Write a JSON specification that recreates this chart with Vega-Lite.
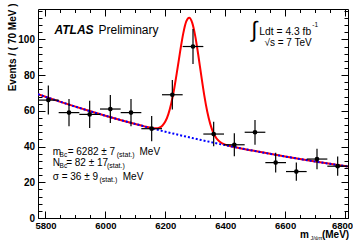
{
  "$schema": "https://vega.github.io/schema/vega-lite/v6.json",
  "width": 310,
  "height": 209,
  "autosize": {"type": "none"},
  "padding": {"left": 38, "top": 9, "right": 5, "bottom": 22},
  "background": "white",
  "config": {
    "font": "Liberation Sans",
    "view": {"stroke": "black", "strokeWidth": 1},
    "axis": {"domain": false, "grid": false, "tickColor": "black", "tickWidth": 1, "labelColor": "black", "labelFont": "Liberation Sans", "labelFontWeight": "bold", "labelFontSize": 10, "labelOverlap": false, "labelFlush": false, "zindex": 1},
    "text": {"font": "Liberation Sans", "color": "black", "align": "left", "baseline": "middle"}
  },
  "datasets": {
    "curve": [
      {"m": 5775, "bkg": 69.30, "total": 69.30},
      {"m": 5800, "bkg": 67.85, "total": 67.85},
      {"m": 5850, "bkg": 65.03, "total": 65.03},
      {"m": 5900, "bkg": 62.33, "total": 62.33},
      {"m": 5950, "bkg": 59.74, "total": 59.74},
      {"m": 6000, "bkg": 57.26, "total": 57.26},
      {"m": 6050, "bkg": 54.89, "total": 54.89},
      {"m": 6100, "bkg": 52.61, "total": 52.61},
      {"m": 6130, "bkg": 51.29, "total": 51.30},
      {"m": 6150, "bkg": 50.42, "total": 50.52},
      {"m": 6170, "bkg": 49.57, "total": 50.20},
      {"m": 6180, "bkg": 49.15, "total": 50.56},
      {"m": 6190, "bkg": 48.74, "total": 51.68},
      {"m": 6200, "bkg": 48.33, "total": 54.00},
      {"m": 6210, "bkg": 47.92, "total": 58.04},
      {"m": 6220, "bkg": 47.52, "total": 64.23},
      {"m": 6230, "bkg": 47.12, "total": 72.65},
      {"m": 6240, "bkg": 46.72, "total": 82.87},
      {"m": 6250, "bkg": 46.32, "total": 93.68},
      {"m": 6260, "bkg": 45.93, "total": 103.35},
      {"m": 6270, "bkg": 45.55, "total": 110.01},
      {"m": 6280, "bkg": 45.16, "total": 112.16},
      {"m": 6290, "bkg": 44.78, "total": 109.24},
      {"m": 6300, "bkg": 44.40, "total": 101.82},
      {"m": 6310, "bkg": 44.03, "total": 91.39},
      {"m": 6320, "bkg": 43.65, "total": 79.80},
      {"m": 6330, "bkg": 43.29, "total": 68.82},
      {"m": 6340, "bkg": 42.92, "total": 59.63},
      {"m": 6350, "bkg": 42.56, "total": 52.68},
      {"m": 6360, "bkg": 42.20, "total": 47.87},
      {"m": 6370, "bkg": 41.84, "total": 44.78},
      {"m": 6380, "bkg": 41.49, "total": 42.90},
      {"m": 6390, "bkg": 41.14, "total": 41.77},
      {"m": 6400, "bkg": 40.79, "total": 41.05},
      {"m": 6410, "bkg": 40.44, "total": 40.54},
      {"m": 6450, "bkg": 39.10, "total": 39.10},
      {"m": 6500, "bkg": 37.48, "total": 37.48},
      {"m": 6550, "bkg": 35.92, "total": 35.92},
      {"m": 6600, "bkg": 34.43, "total": 34.43},
      {"m": 6650, "bkg": 33.00, "total": 33.00},
      {"m": 6700, "bkg": 31.63, "total": 31.63},
      {"m": 6750, "bkg": 30.32, "total": 30.32},
      {"m": 6800, "bkg": 29.06, "total": 29.06},
      {"m": 6810, "bkg": 28.81, "total": 28.81}
    ],
    "pts": [
      {"m": 5809.5, "mlo": 5775, "mhi": 5844, "n": 66, "lo": 57.88, "hi": 74.12},
      {"m": 5878.5, "mlo": 5844, "mhi": 5913, "n": 59, "lo": 51.32, "hi": 66.68},
      {"m": 5947.5, "mlo": 5913, "mhi": 5982, "n": 58, "lo": 50.38, "hi": 65.62},
      {"m": 6016.5, "mlo": 5982, "mhi": 6051, "n": 61, "lo": 53.19, "hi": 68.81},
      {"m": 6085.5, "mlo": 6051, "mhi": 6120, "n": 59, "lo": 51.32, "hi": 66.68},
      {"m": 6154.5, "mlo": 6120, "mhi": 6189, "n": 50, "lo": 42.93, "hi": 57.07},
      {"m": 6223.5, "mlo": 6189, "mhi": 6258, "n": 69, "lo": 60.69, "hi": 77.31},
      {"m": 6292.5, "mlo": 6258, "mhi": 6327, "n": 96, "lo": 86.20, "hi": 105.80},
      {"m": 6361.5, "mlo": 6327, "mhi": 6396, "n": 47, "lo": 40.14, "hi": 53.86},
      {"m": 6430.5, "mlo": 6396, "mhi": 6465, "n": 41, "lo": 34.60, "hi": 47.40},
      {"m": 6499.5, "mlo": 6465, "mhi": 6534, "n": 48, "lo": 41.07, "hi": 54.93},
      {"m": 6568.5, "mlo": 6534, "mhi": 6603, "n": 31, "lo": 25.43, "hi": 36.57},
      {"m": 6637.5, "mlo": 6603, "mhi": 6672, "n": 26, "lo": 20.90, "hi": 31.10},
      {"m": 6706.5, "mlo": 6672, "mhi": 6741, "n": 33, "lo": 27.26, "hi": 38.74},
      {"m": 6775.5, "mlo": 6741, "mhi": 6810, "n": 29, "lo": 23.61, "hi": 34.39}
    ]
  },
  "layer": [
    {
      "data": {"name": "curve"},
      "mark": {"type": "line", "color": "#ff0000", "strokeWidth": 2, "interpolate": "monotone", "clip": true},
      "encoding": {
        "x": {"field": "m", "type": "quantitative", "scale": {"domain": [5775, 6810], "nice": false, "zero": false},
              "axis": {"orient": "bottom", "title": null, "values": [5800, 6000, 6200, 6400, 6600, 6800], "format": "d", "tickSize": -7, "labelPadding": 9, "labelFontSize": 9.5,
                       "labelOffset": {"condition": {"test": "datum.value === 6800", "value": -3}, "value": 0}}},
        "y": {"field": "total", "type": "quantitative", "scale": {"domain": [0, 117], "nice": false, "zero": true},
              "axis": {"orient": "left", "values": [0, 20, 40, 60, 80, 100], "format": "d", "tickSize": -7, "labelPadding": 10.5,
                       "title": "Events / ( 70 MeV )", "titleFont": "Liberation Sans", "titleFontWeight": "bold", "titleFontSize": 10, "titleColor": "black",
                       "titleAngle": 270, "titleAlign": "right", "titleBaseline": "middle", "titleX": -25.5, "titleY": -6}}
      }
    },
    {
      "data": {"name": "curve"},
      "mark": {"type": "line", "color": "#0000ff", "strokeWidth": 2, "strokeDash": [2, 2], "interpolate": "monotone", "clip": true},
      "encoding": {
        "x": {"field": "m", "type": "quantitative",
              "axis": {"orient": "bottom", "title": null, "labels": false, "tickSize": -3.5,
                       "values": [5800, 5850, 5900, 5950, 6000, 6050, 6100, 6150, 6200, 6250, 6300, 6350, 6400, 6450, 6500, 6550, 6600, 6650, 6700, 6750, 6800]}},
        "y": {"field": "bkg", "type": "quantitative",
              "axis": {"orient": "left", "title": null, "labels": false, "tickSize": -4,
                       "values": [0, 4, 8, 12, 16, 20, 24, 28, 32, 36, 40, 44, 48, 52, 56, 60, 64, 68, 72, 76, 80, 84, 88, 92, 96, 100, 104, 108, 112, 116]}}
      }
    },
    {
      "data": {"name": "pts"},
      "mark": {"type": "rule", "color": "black", "strokeWidth": 1.2},
      "encoding": {
        "x": {"field": "m", "type": "quantitative",
              "axis": {"orient": "top", "title": null, "labels": false, "tickSize": -7, "values": [5800, 6000, 6200, 6400, 6600, 6800]}},
        "y": {"field": "lo", "type": "quantitative",
              "axis": {"orient": "right", "title": null, "labels": false, "tickSize": -7, "values": [0, 20, 40, 60, 80, 100]}},
        "y2": {"field": "hi"}
      }
    },
    {
      "data": {"name": "pts"},
      "mark": {"type": "rule", "color": "black", "strokeWidth": 1.2},
      "encoding": {
        "x": {"field": "mlo", "type": "quantitative",
              "axis": {"orient": "top", "title": null, "labels": false, "tickSize": -3.5,
                       "values": [5800, 5850, 5900, 5950, 6000, 6050, 6100, 6150, 6200, 6250, 6300, 6350, 6400, 6450, 6500, 6550, 6600, 6650, 6700, 6750, 6800]}},
        "x2": {"field": "mhi"},
        "y": {"field": "n", "type": "quantitative",
              "axis": {"orient": "right", "title": null, "labels": false, "tickSize": -4,
                       "values": [0, 4, 8, 12, 16, 20, 24, 28, 32, 36, 40, 44, 48, 52, 56, 60, 64, 68, 72, 76, 80, 84, 88, 92, 96, 100, 104, 108, 112, 116]}}
      }
    },
    {
      "data": {"name": "pts"},
      "mark": {"type": "point", "shape": "circle", "filled": true, "color": "black", "opacity": 1, "size": 22},
      "encoding": {
        "x": {"field": "m", "type": "quantitative", "axis": null},
        "y": {"field": "n", "type": "quantitative", "axis": null}
      }
    },
    {"data": {"values": [{}]}, "mark": {"type": "text", "text": "ATLAS", "fontSize": 12, "fontWeight": "bold", "fontStyle": "italic"},
     "encoding": {"x": {"datum": 5830, "type": "quantitative", "axis": null}, "y": {"datum": 105, "type": "quantitative", "axis": null}}},
    {"data": {"values": [{}]}, "mark": {"type": "text", "text": "Preliminary", "fontSize": 12},
     "encoding": {"x": {"datum": 5977, "type": "quantitative", "axis": null}, "y": {"datum": 105, "type": "quantitative", "axis": null}}},
    {"data": {"values": [{}]}, "mark": {"type": "text", "text": "∫", "fontSize": 22},
     "encoding": {"x": {"datum": 6487, "type": "quantitative", "axis": null}, "y": {"datum": 105.5, "type": "quantitative", "axis": null}}},
    {"data": {"values": [{}]}, "mark": {"type": "text", "text": "Ldt = 4.3 fb", "fontSize": 10.3},
     "encoding": {"x": {"datum": 6514, "type": "quantitative", "axis": null}, "y": {"datum": 104.4, "type": "quantitative", "axis": null}}},
    {"data": {"values": [{}]}, "mark": {"type": "text", "text": "-1", "fontSize": 6.5},
     "encoding": {"x": {"datum": 6691, "type": "quantitative", "axis": null}, "y": {"datum": 108, "type": "quantitative", "axis": null}}},
    {"data": {"values": [{}]}, "mark": {"type": "text", "text": "√s = 7 TeV", "fontSize": 10},
     "encoding": {"x": {"datum": 6531, "type": "quantitative", "axis": null}, "y": {"datum": 98.2, "type": "quantitative", "axis": null}}},
    {"data": {"values": [{}]}, "mark": {"type": "text", "text": "m", "fontSize": 10},
     "encoding": {"x": {"datum": 5824, "type": "quantitative", "axis": null}, "y": {"datum": 37.2, "type": "quantitative", "axis": null}}},
    {"data": {"values": [{}]}, "mark": {"type": "text", "text": "Bc", "fontSize": 6.5},
     "encoding": {"x": {"datum": 5847, "type": "quantitative", "axis": null}, "y": {"datum": 35.4, "type": "quantitative", "axis": null}}},
    {"data": {"values": [{}]}, "mark": {"type": "text", "text": "= 6282 ± 7", "fontSize": 10},
     "encoding": {"x": {"datum": 5874, "type": "quantitative", "axis": null}, "y": {"datum": 37.2, "type": "quantitative", "axis": null}}},
    {"data": {"values": [{}]}, "mark": {"type": "text", "text": "(stat.)", "fontSize": 7},
     "encoding": {"x": {"datum": 6038, "type": "quantitative", "axis": null}, "y": {"datum": 35.5, "type": "quantitative", "axis": null}}},
    {"data": {"values": [{}]}, "mark": {"type": "text", "text": "MeV", "fontSize": 10},
     "encoding": {"x": {"datum": 6114, "type": "quantitative", "axis": null}, "y": {"datum": 37.2, "type": "quantitative", "axis": null}}},
    {"data": {"values": [{}]}, "mark": {"type": "text", "text": "N", "fontSize": 10},
     "encoding": {"x": {"datum": 5824, "type": "quantitative", "axis": null}, "y": {"datum": 30.9, "type": "quantitative", "axis": null}}},
    {"data": {"values": [{}]}, "mark": {"type": "text", "text": "Bc", "fontSize": 6.5},
     "encoding": {"x": {"datum": 5847, "type": "quantitative", "axis": null}, "y": {"datum": 29.1, "type": "quantitative", "axis": null}}},
    {"data": {"values": [{}]}, "mark": {"type": "text", "text": "= 82 ± 17", "fontSize": 10},
     "encoding": {"x": {"datum": 5869, "type": "quantitative", "axis": null}, "y": {"datum": 30.9, "type": "quantitative", "axis": null}}},
    {"data": {"values": [{}]}, "mark": {"type": "text", "text": "(stat.)", "fontSize": 7},
     "encoding": {"x": {"datum": 6005, "type": "quantitative", "axis": null}, "y": {"datum": 29.2, "type": "quantitative", "axis": null}}},
    {"data": {"values": [{}]}, "mark": {"type": "text", "text": "σ = 36 ± 9", "fontSize": 10},
     "encoding": {"x": {"datum": 5824, "type": "quantitative", "axis": null}, "y": {"datum": 22.7, "type": "quantitative", "axis": null}}},
    {"data": {"values": [{}]}, "mark": {"type": "text", "text": "(stat.)", "fontSize": 7},
     "encoding": {"x": {"datum": 5980, "type": "quantitative", "axis": null}, "y": {"datum": 21.0, "type": "quantitative", "axis": null}}},
    {"data": {"values": [{}]}, "mark": {"type": "text", "text": "MeV", "fontSize": 10},
     "encoding": {"x": {"datum": 6058, "type": "quantitative", "axis": null}, "y": {"datum": 22.7, "type": "quantitative", "axis": null}}},
    {"data": {"values": [{}]}, "mark": {"type": "text", "text": "m", "fontSize": 10, "fontWeight": "bold"},
     "encoding": {"x": {"datum": 6650, "type": "quantitative", "axis": null}, "y": {"datum": -9.7, "type": "quantitative", "axis": null}}},
    {"data": {"values": [{}]}, "mark": {"type": "text", "text": "J/ψπ", "fontSize": 5.5},
     "encoding": {"x": {"datum": 6685, "type": "quantitative", "axis": null}, "y": {"datum": -11, "type": "quantitative", "axis": null}}},
    {"data": {"values": [{}]}, "mark": {"type": "text", "text": "(MeV)", "fontSize": 10, "fontWeight": "bold"},
     "encoding": {"x": {"datum": 6723, "type": "quantitative", "axis": null}, "y": {"datum": -9.7, "type": "quantitative", "axis": null}}}
  ],
  "resolve": {"axis": {"x": "independent", "y": "independent"}}
}
